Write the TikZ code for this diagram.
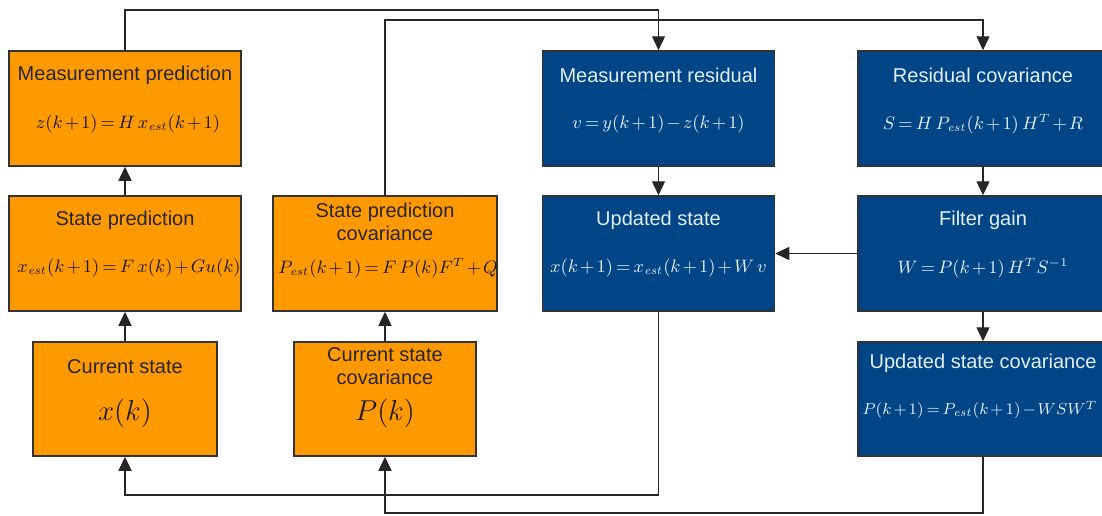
\documentclass[tikz,border=0pt]{standalone}
\usepackage[no-math]{fontspec}
\setmainfont{Liberation Sans}
\usepackage{amsmath}
\usetikzlibrary{arrows.meta,positioning}
\definecolor{predorange}{RGB}{255,153,0}
\definecolor{updblue}{RGB}{0,69,134}
\definecolor{updtext}{RGB}{228,238,250}
\newcommand{\est}{\mathit{est}}
\medmuskip=2mu
\thickmuskip=3mu

\begin{document}
\begin{tikzpicture}[x=0.5pt,y=-0.5pt,
    predbox/.style={draw=black!80,line width=0.75pt,fill=predorange,
      minimum width=116pt,minimum height=57.5pt,inner sep=0pt},
    updbox/.style={predbox,fill=updblue},
    ttl/.style={font=\fontsize{10}{11.5}\selectfont,text=black!85,align=center,inner sep=0pt},
    fml/.style={font=\fontsize{9}{11}\selectfont,text=black!90,inner sep=0pt},
    bigfml/.style={fml,font=\fontsize{15}{18}\selectfont},
    ttlw/.style={ttl,text=updtext},
    fmlw/.style={fml,text=updtext},
    flow/.style={-{Triangle[length=7pt,width=6.5pt]},line width=0.7pt,draw=black!85}]
  \useasboundingbox (0,0) rectangle (1102,515);
  % prediction side
  \node[predbox] (mp) at (125,108.5) {};
  \node[ttl] (mpt) at (125,75) {Measurement prediction};
  \node[fml] (mpf) at (128,124) {$z(k+1)=H\,x_{\est}(k+1)$};
  \node[predbox] (sp) at (125,253.5) {};
  \node[ttl] (spt) at (125,220) {State prediction};
  \node[fml] (spf) at (129,268) {$x_{\est}(k+1)=F\,x(k)+G u(k)$};
  \node[predbox,minimum width=92pt,minimum height=57pt] (cs) at (125,399) {};
  \node[ttl] (cst) at (125,367) {Current state};
  \node[bigfml] (csf) at (125,413) {$x(k)$};
  \node[predbox,minimum width=112pt] (spc) at (385,253.5) {};
  \node[ttl] (spct) at (385,221.5) {State prediction\\covariance};
  \node[fml,font=\fontsize{8.7}{11}\selectfont] (spcf) at (388,268) {$P_{\est}(k+1)=F\,P(k)F^{T}+Q$};
  \node[predbox,minimum width=91pt,minimum height=57pt] (csc) at (385,399) {};
  \node[ttl] (csct) at (385,366.5) {Current state\\covariance};
  \node[bigfml] (cscf) at (385,413) {$P(k)$};
  % update side
  \node[updbox] (mr) at (658.5,108.5) {};
  \node[ttlw] (mrt) at (658.5,75) {Measurement residual};
  \node[fmlw] (mrf) at (658.5,124) {$v=y(k+1)-z(k+1)$};
  \node[updbox] (us) at (658.5,253.5) {};
  \node[ttlw] (ust) at (658.5,220) {Updated state};
  \node[fmlw] (usf) at (658.5,268) {$x(k+1)=x_{\est}(k+1)+W\,v$};
  \node[updbox,minimum width=125pt] (rc) at (983,108.5) {};
  \node[ttlw] (rct) at (983,75) {Residual covariance};
  \node[fmlw] (rcf) at (983,124) {$S=H\,P_{\est}(k+1)\,H^{T}+R$};
  \node[updbox,minimum width=125pt] (fg) at (983,253.5) {};
  \node[ttlw] (fgt) at (983,220) {Filter gain};
  \node[fmlw] (fgf) at (983,268) {$W=P(k+1)\,H^{T}S^{-1}$};
  \node[updbox,minimum width=125pt,minimum height=57pt] (uc) at (983,399) {};
  \node[ttlw] (uct) at (983,363) {Updated state covariance};
  \node[fmlw,font=\fontsize{8.3}{11}\selectfont] (ucf) at (980,410) {$P(k+1)=P_{\est}(k+1)-W S W^{T}$};
  % connectors
  \coordinate (topa) at (0,10);
  \coordinate (topb) at (0,20);
  \coordinate (bota) at (0,495);
  \coordinate (botb) at (0,513);
  \draw[flow] (sp.north) -- (mp.south);
  \draw[flow] (cs.north) -- (sp.south);
  \draw[flow] (csc.north) -- (spc.south);
  \draw[flow] (mp.north) -- (mp.north |- topa) -| (mr.north);
  \draw[flow] (spc.north) -- (spc.north |- topb) -| (rc.north);
  \draw[flow] (mr.south) -- (us.north);
  \draw[flow] (rc.south) -- (fg.north);
  \draw[flow] (fg.west) -- (us.east);
  \draw[flow] (fg.south) -- (uc.north);
  \draw[flow] (us.south) -- (us.south |- bota) -| (cs.south);
  \draw[flow] (uc.south) -- (uc.south |- botb) -| (csc.south);
\end{tikzpicture}
\end{document}
